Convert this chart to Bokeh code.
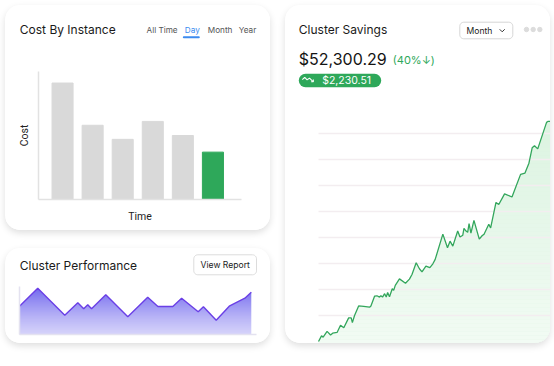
import numpy as np
from bokeh.plotting import figure
from bokeh.layouts import row, column
from bokeh.models import FixedTicker, Range1d, Grid, ColumnDataSource
from bokeh.core.properties import value
from bokeh.embed import file_html
from bokeh.resources import INLINE

# ---------------- data ----------------
cost_periods = ["P1", "P2", "P3", "P4", "P5", "P6"]
cost_values = [91, 58, 47, 61, 50, 37]
cost_colors = ["#d9d9d9", "#d9d9d9", "#d9d9d9", "#d9d9d9", "#d9d9d9", "#2ea85a"]
cost_tabs = ["All Time", "Day", "Month", "Year"]

perf_x = [0, 7.7, 19.1, 24.6, 27.1, 28.8, 30.4, 36.4, 45.7, 54.1,
          58.4, 64.7, 68.4, 75.4, 77.6, 83.0, 88.5, 95.1, 97.8]
perf_y = [59, 96.5, 40.2, 66, 53.5, 61.9, 53.5, 82.7, 36.9, 77.7,
          58.3, 58.3, 75.6, 47.3, 57.7, 29.8, 59, 75.6, 88.1]

savings_x = [0, 1.3, 2.0, 3.7, 5.2, 6.1, 8.0, 9.5, 10.9, 13.0,
             14.1, 14.6, 15.5, 17.3, 19.5, 22.0, 22.6, 24.2, 25.2, 26.3,
             26.9, 27.6, 28.5, 29.2, 29.8, 30.6, 31.8, 32.4, 33.1, 34.9,
             37.5, 39.2, 40.3, 42.1, 43.5, 44.6, 46.3, 48.0, 49.3, 50.3,
             53.6, 55.6, 56.7, 57.9, 60.0, 61.0, 62.2, 62.7, 63.6, 64.3,
             64.9, 65.7, 67.0, 69.3, 70.6, 71.3, 73.4, 74.2, 76.5, 77.7,
             80.2, 83.4, 87.1, 89.0, 90.7, 92.1, 93.1, 94.5, 98.3, 99.0,
             100.0]
savings_y = [0.1, 2.3, 1.8, 4.0, 2.6, 3.3, 3.6, 6.4, 5.4, 9.2,
             9.2, 7.4, 10.0, 13.8, 13.6, 13.3, 13.8, 17.6, 17.7, 17.2,
             17.7, 17.2, 18.5, 17.2, 19.0, 17.3, 20.4, 19.8, 21.7, 24.2,
             22.5, 24.1, 25.9, 30.4, 28.1, 26.9, 29.1, 28.5, 30.0, 31.7,
             41.4, 36.2, 38.7, 36.8, 42.6, 40.3, 41.0, 43.6, 42.6, 42.1,
             45.5, 41.8, 46.7, 39.5, 40.9, 41.3, 45.2, 43.8, 53.6, 52.8,
             56.9, 55.7, 64.4, 64.9, 68.7, 74.6, 75.4, 74.2, 84.4, 84.8,
             84.8]
savings_grid = [10, 20, 30, 40, 50, 60, 70, 80]
savings_total = "$52,300.29"
savings_change = "(40%\u2193)"
savings_delta = "$2,230.51"

FONT = "Inter"
GREEN = "#2ea85a"
CARD_STYLE = {"border-radius": "15px",
              "box-shadow": "0 3px 7px rgba(0,0,0,0.13)",
              "overflow": "hidden",
              "background-color": "white"}


def clean(p):
    p.outline_line_color = None
    p.background_fill_color = "white"
    p.border_fill_color = "white"
    for g in list(p.xgrid) + list(p.ygrid):
        g.visible = False
    try:
        p.frame_align = False
    except AttributeError:
        pass
    return p


def header_fig(w, h):
    p = figure(width=w, height=h, x_range=Range1d(0, w), y_range=Range1d(h, 0),
               x_axis_location=None, y_axis_location=None, output_backend="svg",
               toolbar_location=None, min_border_left=0, min_border_right=0,
               min_border_top=0, min_border_bottom=0)
    return clean(p)


def chart_fig(w, h, xr, yr, bl, br, bt, bb, axes=True):
    kw = {} if axes else dict(x_axis_location=None, y_axis_location=None)
    p = figure(width=w, height=h, x_range=xr, y_range=yr, output_backend="svg",
               toolbar_location=None, min_border_left=bl, min_border_right=br,
               min_border_top=bt, min_border_bottom=bb, **kw)
    return clean(p)


def txt(p, x, y, t, size, color="#1a1a1a", align="left", baseline="middle", font=FONT):
    p.text(x=[x], y=[y], text=[t], text_font=value(font), text_font_size=value(size),
           text_color=color, text_align=align, text_baseline=baseline)


def rrect(p, x0, y0, x1, y1, r, fill="white", line="#dcdcdc"):
    xs, ys = [], []
    corners = [(x1 - r, y0 + r, -90, 0), (x1 - r, y1 - r, 0, 90),
               (x0 + r, y1 - r, 90, 180), (x0 + r, y0 + r, 180, 270)]
    for cx, cy, a0, a1 in corners:
        for a in np.linspace(np.radians(a0), np.radians(a1), 7):
            xs.append(cx + r * np.cos(a))
            ys.append(cy + r * np.sin(a))
    p.patch(xs, ys, fill_color=fill, line_color=line, line_width=1)


def plain_axes(p, color, width):
    for ax in (p.xaxis[0], p.yaxis[0]):
        ax.ticker = FixedTicker(ticks=[])
        ax.major_tick_line_color = None
        ax.minor_tick_line_color = None
        ax.major_tick_out = 0
        ax.major_tick_in = 0
        ax.minor_tick_out = 0
        ax.minor_tick_in = 0
        ax.major_label_standoff = 0
        ax.major_label_text_font_size = "0px"
        ax.axis_line_color = color
        ax.axis_line_width = width


# ---------------- card 1: Cost By Instance ----------------
h1 = header_fig(265, 50)
txt(h1, 14.3, 23.6, "Cost By Instance", "12px")
tab_x = [141, 179.3, 202.3, 233.3]
for t, tx in zip(cost_tabs, tab_x):
    txt(h1, tx, 24, t, "8.2px", color="#3d8bef" if t == "Day" else "#555555")
h1.line([178.3, 193.3], [31.7, 31.7], line_width=2, line_cap="round", line_color="#3d8bef")

c1 = chart_fig(265, 175, Range1d(0.2, 6.95), Range1d(0, 100), 33, 29, 16, 31)
plain_axes(c1, "#e2e2e2", 1.5)
c1.xaxis.axis_label = "Time"
c1.yaxis.axis_label = "Cost"
for ax in (c1.xaxis[0], c1.yaxis[0]):
    ax.axis_label_text_font = "Roboto"
    ax.axis_label_text_font_style = "normal"
    ax.axis_label_text_font_size = "10.5px"
    ax.axis_label_text_color = "#222222"
c1.xaxis[0].axis_label_standoff = 10
c1.yaxis[0].axis_label_standoff = 8
src1 = ColumnDataSource(dict(x=list(range(1, len(cost_values) + 1)), top=cost_values,
                             color=cost_colors, period=cost_periods))
c1.vbar(x="x", top="top", width=0.7, color="color", source=src1)
card1 = column(h1, c1, spacing=0, styles=CARD_STYLE)

# ---------------- card 2: Cluster Performance ----------------
h2 = header_fig(265, 32)
txt(h2, 14.3, 16.6, "Cluster Performance", "12px")
rrect(h2, 188.3, 6.3, 251, 26.3, 4)
txt(h2, 219.7, 16.5, "View Report", "8.6px", align="center")

c2 = chart_fig(265, 63, Range1d(0, 100), Range1d(0, 100), 14, 14, 6, 9)
plain_axes(c2, "#e4e2f0", 1.5)
c2.varea(x=perf_x, y1=0, y2=perf_y, fill_color="#6f66ee", fill_alpha=1.0)
edges = np.linspace(0, 100, 49)
for k in range(48):
    a = 0.93 * (1 - (edges[k] + edges[k + 1]) / 200.0)
    c2.quad(left=0, right=100, bottom=edges[k], top=edges[k + 1],
            fill_color="white", fill_alpha=a, line_color=None)
c2.line(perf_x, perf_y, line_color="#6a3fe6", line_width=1.4)
card2 = column(h2, c2, spacing=0, styles=CARD_STYLE)

# ---------------- card 3: Cluster Savings ----------------
h3 = header_fig(265, 98)
txt(h3, 13.3, 23.6, "Cluster Savings", "12px")
rrect(h3, 174.3, 16.7, 227.3, 33.3, 4, line="#d6d6d6")
txt(h3, 181, 25, "Month", "8.6px")
h3.line([214.2, 216.7, 219.2], [23.8, 26.3, 23.8], line_color="#333333", line_width=1)
h3.scatter([241, 247.7, 254.3], [24, 24, 24], size=4.4, color="#dcdcdc")
txt(h3, 13.3, 53.8, savings_total, "16px", color="#141414")
txt(h3, 107.3, 54.5, savings_change, "11px", color=GREEN)
h3.line([20, 89], [75, 75], line_width=13.4, line_cap="round", line_color=GREEN)
h3.line([16.8, 19.2, 21.6, 24.0, 27.6], [74.2, 71.8, 74.4, 72.6, 76.2],
        line_color="white", line_width=1.1)
h3.line([25.6, 27.8, 27.8], [76.3, 76.3, 74.1], line_color="white", line_width=1.1)
txt(h3, 36.7, 75, savings_delta, "10.5px", color="white")

y0, y1 = -0.65, 91.65
c3 = chart_fig(265, 240, Range1d(0, 100), Range1d(y0, y1), 33, 0, 0, 0, axes=False)
c3.varea(x=savings_x, y1=y0, y2=savings_y, fill_color="#dcf4e1", fill_alpha=1.0)
edges3 = np.linspace(y0, y1, 61)
for k in range(60):
    frac = ((edges3[k] + edges3[k + 1]) / 2 - y0) / (86 - y0)
    c3.quad(left=0, right=100, bottom=edges3[k], top=edges3[k + 1],
            fill_color="white", fill_alpha=max(0.0, 0.62 * (1 - frac)), line_color=None)
grid = Grid(dimension=1, ticker=FixedTicker(ticks=savings_grid),
            grid_line_color="#f3edf0", grid_line_width=1.4, level="guide")
c3.add_layout(grid)
c3.line(savings_x, savings_y, line_color="#33a65c", line_width=1.3, level="annotation")
card3 = column(h3, c3, spacing=0, styles=CARD_STYLE)

layout = row(column(card1, card2, spacing=18), card3, spacing=15, margin=(5, 0, 0, 5))

open("out.html", "w").write(file_html(layout, INLINE))
